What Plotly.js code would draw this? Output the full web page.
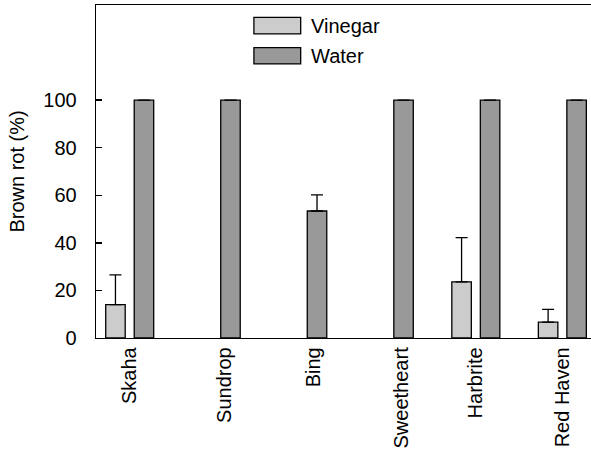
<!DOCTYPE html>
<html>
<head>
<meta charset="utf-8">
<script src="https://cdn.plot.ly/plotly-3.0.1.min.js"></script>
<style>html,body{margin:0;padding:0;background:#fff;}#chart{width:591px;height:454px;}</style>
</head>
<body>
<div id="chart"></div>
<script>
// ---- data ----
var cultivars = ["Skaha", "Sundrop", "Bing", "Sweetheart", "Harbrite", "Red Haven"];
var seriesNames = ["Vinegar", "Water"];
var vinegar = [14, 0, 0, 0, 23.6, 6.7];
var vinegarErr = [12.5, 0, 0, 0, 18.6, 5.3];
var water = [100, 100, 53.4, 100, 100, 100];
var waterErr = [0, 0, 6.8, 0, 0, 0];
var yTicks = [0, 20, 40, 60, 80, 100];

// ---- style ----
var labelShift = [0, 0.09, 0.12, 0.14, 0, 0];
var colors = ["#cccccc", "#999999"];
var FONT = "Liberation Sans, Arial, sans-serif";

var idx = cultivars.map(function (c, i) { return i; });
var vinegarShown = vinegar.map(function (v) { return v > 0 ? v : null; });
var vinegarErrShown = vinegarErr.map(function (e, i) { return vinegar[i] > 0 ? e : null; });

function barTrace(name, y, err, color) {
  return {
    type: "bar", name: name, x: idx, y: y,
    marker: { color: color, line: { color: "#000", width: 1.3 } },
    error_y: { type: "data", array: err, symmetric: false,
      arrayminus: err.map(function () { return 0; }),
      color: "#000", thickness: 1.3, width: 6, visible: true },
    hoverinfo: "skip"
  };
}

var traces = [
  barTrace(seriesNames[0], vinegarShown, vinegarErrShown, colors[0]),
  barTrace(seriesNames[1], water, waterErr.map(function (e) { return e > 0 ? e : null; }), colors[1])
];

var sw = [[0.963, 0.913], [0.872, 0.823]];
var shapes = [], annotations = [];
seriesNames.forEach(function (n, i) {
  shapes.push({ type: "rect", xref: "paper", yref: "paper", x0: 0.319, x1: 0.4135,
    y0: sw[i][1], y1: sw[i][0], fillcolor: colors[i], line: { color: "#000", width: 1.3 } });
  annotations.push({ xref: "paper", yref: "paper", x: 0.431, y: (sw[i][0] + sw[i][1]) / 2,
    xanchor: "left", yanchor: "middle", showarrow: false, text: n,
    font: { family: FONT, size: 20, color: "#000" } });
});

var layout = {
  width: 591, height: 454,
  margin: { l: 96, r: 0, t: 5, b: 115.7 },
  paper_bgcolor: "#fff", plot_bgcolor: "#fff",
  showlegend: false,
  barmode: "group", bargap: 0.3413, bargroupgap: 0.316,
  font: { family: FONT, size: 20, color: "#000" },
  xaxis: {
    range: [-0.3895, 5.331], showgrid: false, zeroline: false,
    showline: true, linecolor: "#000", linewidth: 1.3, mirror: true,
    tickmode: "array",
    tickvals: idx.map(function (i) { return i + labelShift[i]; }),
    ticktext: cultivars, tickangle: -90, ticks: "",
    tickfont: { family: FONT, size: 20, color: "#000" }
  },
  yaxis: {
    range: [0, 140], showgrid: false, zeroline: false,
    showline: true, linecolor: "#000", linewidth: 1.3,
    tickmode: "array", tickvals: yTicks,
    ticks: "inside", ticklen: 6, tickwidth: 1.3, tickcolor: "#000",
    ticklabelstandoff: 14,
    tickfont: { family: FONT, size: 20, color: "#000" },
    title: { text: "Brown rot (%)", font: { family: FONT, size: 20, color: "#000" }, standoff: 13 }
  },
  shapes: shapes,
  annotations: annotations
};

Plotly.newPlot("chart", traces, layout, { staticPlot: true, displayModeBar: false });
</script>
</body>
</html>
